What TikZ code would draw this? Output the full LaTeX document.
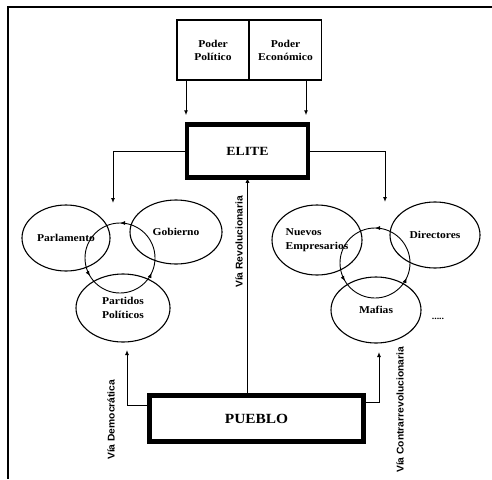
\documentclass[tikz,border=0pt]{standalone}
\usepackage{fontspec}
\setmainfont{Liberation Serif}
\newfontfamily\scan{Liberation Serif}[FakeStretch=1.1]
\newfontfamily\scansans{Liberation Sans}[FakeStretch=1.05]
\usetikzlibrary{arrows.meta,shapes.geometric,decorations.markings}
\tikzset{
  arr/.style={-{Latex[length=5pt,width=4pt]}, line width=1pt},
  pbox/.style={draw, line width=1.3pt, minimum width=72pt, minimum height=60pt, align=center, inner sep=1pt, font=\scan\bfseries\fontsize{10.5}{13}\selectfont},
  bigbox/.style={draw, line width=4.5pt, inner sep=0pt},
  ell/.style={draw, ellipse, line width=1.1pt, inner sep=0pt, align=center, font=\scan\bfseries\fontsize{10.5}{14}\selectfont},
  cyc/.style={line width=0.9pt, postaction={decorate}, decoration={markings,
     mark=at position 0.25 with {\arrow{Latex[length=5pt,width=4pt]}},
     mark=at position 0.586 with {\arrow{Latex[length=5pt,width=4pt]}},
     mark=at position 0.93 with {\arrow{Latex[length=5pt,width=4pt]}}}},
  vlab/.style={rotate=90, inner sep=0pt, font=\scansans\bfseries\fontsize{9.8}{11}\selectfont},
  frame/.style={line width=1.1pt}
}
\begin{document}
\begin{tikzpicture}[x=1pt,y=-1pt]
\useasboundingbox (0,0) rectangle (492,479);
% frame
\coordinate (f0) at (8,7);
\coordinate (f1) at (492,7);
\coordinate (f2) at (8,479);
\draw[frame] (f1) -- (f0) -- (f2);

% top boxes
\node[pbox] (pp) at (213,50) {Poder\\Político};
\node[pbox] (pe) at (285.5,50) {Poder\\Económico};

% elite and pueblo
\node[bigbox, minimum width=121pt, minimum height=53pt, font=\scan\bfseries\fontsize{12.5}{14}\selectfont] (elite) at (247.5,151) {ELITE};
\node[bigbox, minimum width=214pt, minimum height=46pt, font=\scan\bfseries\fontsize{14}{16}\selectfont] (pueblo) at (256.5,418.5) {PUEBLO};

\draw[arr, shorten >=7pt] ([xshift=-27pt]pp.south) -- ([xshift=-27pt]pp.south |- elite.north);
\draw[arr, shorten >=7pt] ([xshift=20.5pt]pe.south) -- ([xshift=20.5pt]pe.south |- elite.north);

% left cluster
\node[ell, minimum width=88pt, minimum height=66pt] (parl) at (66,238) {Parlamento};
\node[ell, minimum width=92pt, minimum height=64pt] (gob) at (176,232) {Gobierno};
\node[ell, minimum width=94pt, minimum height=68pt] (part) at (123,308) {Partidos\\Políticos};
\coordinate (cl) at (120,258);
\draw[cyc] (cl) ++(35,0) arc[start angle=0, end angle=-360, radius=35];

% right cluster
\node[ell, minimum width=90pt, minimum height=70pt, align=left] (nue) at (317,240) {Nuevos\\Empresarios};
\node[ell, minimum width=90pt, minimum height=66pt] (dir) at (435,235) {Directores};
\node[ell, minimum width=90pt, minimum height=66pt] (maf) at (376,310) {Mafias};
\coordinate (cr) at (375,263);
\draw[cyc] (cr) ++(35,0) arc[start angle=0, end angle=-360, radius=35];
\node[font=\scan\bfseries\fontsize{9}{10}\selectfont] (dots) at (438,319) {.....};

% elite to clusters
\coordinate (el) at (113,203);
\coordinate (er) at (385,202);
\draw[arr] (elite.west) -| (el);
\draw[arr] (elite.east) -| (er);

% pueblo connectors
\coordinate (pl) at (127,350);
\coordinate (pr) at (379,352);
\draw[arr] (pueblo.north -| elite.south) -- ([yshift=2pt]elite.south);
\draw[arr] ([yshift=13.5pt]pueblo.west) -| (pl);
\draw[arr] ([yshift=16pt]pueblo.east) -| (pr);

% labels
\node[vlab, anchor=west] (lrev) at (239,288) {Vía Revolucionaria};
\node[vlab, anchor=west] (ldem) at (111,460) {Vía Democrática};
\node[vlab, anchor=west] (lcon) at (400,473) {Vía Contrarrevolucionaria};
\end{tikzpicture}
\end{document}
